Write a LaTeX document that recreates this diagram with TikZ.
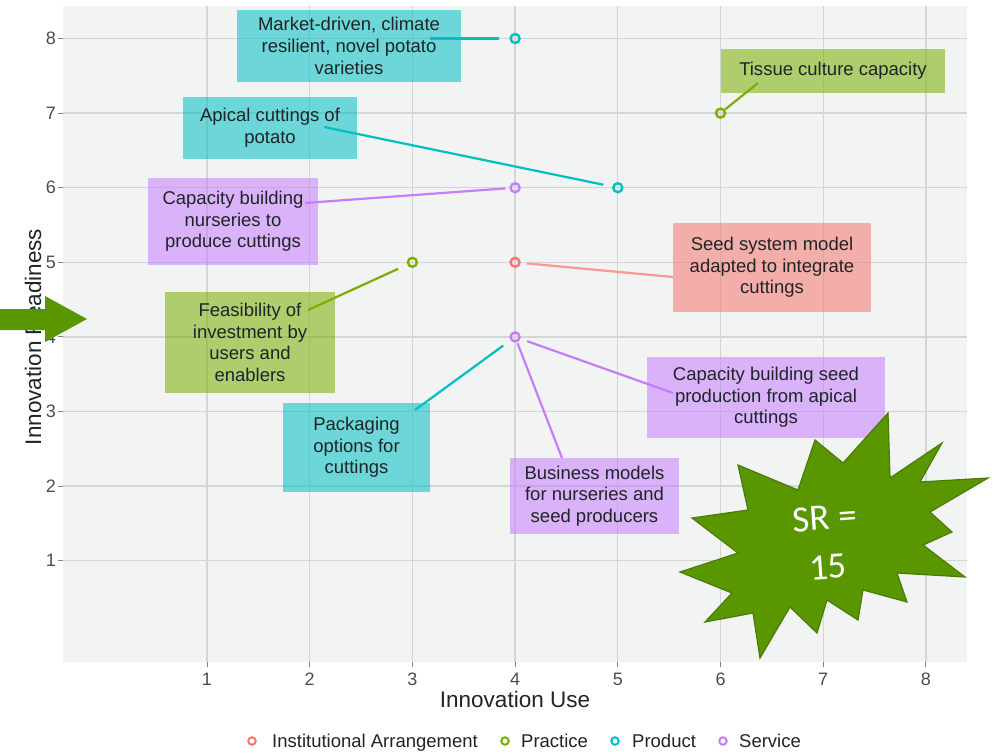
\documentclass[tikz,border=0pt]{standalone}
\usepackage{fontspec}
\setmainfont{Liberation Sans}
\newfontfamily\calibfont{Carlito}
\definecolor{cInst}{HTML}{F8766D}
\definecolor{cPrac}{HTML}{7CAE00}
\definecolor{cProd}{HTML}{00BFC4}
\definecolor{cServ}{HTML}{C77CFF}
\definecolor{panelbg}{HTML}{F1F4F3}
\definecolor{gridc}{HTML}{D3D6D5}
\definecolor{tickc}{HTML}{4D4D4D}
\definecolor{txtc}{HTML}{1E2528}
\definecolor{pptgreen}{HTML}{5A9600}
\definecolor{pptgreendark}{HTML}{4A7C00}
\begin{document}
\begin{tikzpicture}[x=1pt,y=-1pt,
  labbox/.style={inner sep=0pt, align=center, text=txtc, fill opacity=0.55, text opacity=1,
    font=\fontsize{18.5}{21.7}\selectfont},
  seg/.style={line width=2.2pt},
  datapt/.style={circle, draw, line width=2.4pt, minimum size=9pt, inner sep=0pt},
  legpt/.style={circle, draw, line width=2pt, minimum size=7.5pt, inner sep=0pt},
  legtxt/.style={anchor=base west, inner sep=0pt, text=txtc, font=\fontsize{18.5}{22}\selectfont},
  ticklab/.style={inner sep=0pt, text=tickc, font=\fontsize{18}{22}\selectfont},
  axtitle/.style={inner sep=0pt, text=txtc, font=\fontsize{22.5}{26}\selectfont},
  gridline/.style={gridc, line width=1.3pt},
  tickmark/.style={tickc!70, line width=1pt},
  burst/.style={fill=pptgreen, draw=pptgreendark, line width=1.2pt, line join=miter},
  bursttxt/.style={text=white, inner sep=0pt, rotate=4, font=\calibfont\fontsize{37}{40}\selectfont},
  bigarrow/.style={fill=pptgreen}
]
\useasboundingbox (0,0) rectangle (995,753);
\fill[white] (0,0) rectangle (995,753);
% panel
\fill[panelbg] (63,6) rectangle (967,662);
\foreach \gx in {207,309.7,412.4,515.1,617.8,720.5,823.2,925.9}{
  \draw[gridline] (\gx,6) -- (\gx,662);
  \draw[tickmark] (\gx,662) -- (\gx,667);
}
\foreach \gy in {560.7,486.1,411.5,336.9,262.3,187.7,113.1,38.5}{
  \draw[gridline] (63,\gy) -- (967,\gy);
  \draw[tickmark] (58,\gy) -- (63,\gy);
}
% tick labels
\foreach \v/\gx in {1/207,2/309.7,3/412.4,4/515.1,5/617.8,6/720.5,7/823.2,8/925.9}{
  \node[ticklab] (xt\v) at (\gx,679) {\v};
}
\foreach \v/\gy in {1/560.7,2/486.1,3/411.5,4/336.9,5/262.3,6/187.7,7/113.1,8/38.5}{
  \node[ticklab, anchor=east] (yt\v) at (56,\gy) {\v};
}
% axis titles
\node[axtitle] (xtitle) at (515,699) {Innovation Use};
\node[axtitle, rotate=90] (ytitle) at (33,337) {Innovation Readiness};

% data point positions
\path
  (515.1,38.5)  node[datapt, draw=none] (pA) {}
  (720.5,113.1) node[datapt, draw=none] (pB) {}
  (617.8,187.7) node[datapt, draw=none] (pC) {}
  (515.1,187.7) node[datapt, draw=none] (pD) {}
  (515.1,262.3) node[datapt, draw=none] (pE) {}
  (412.4,262.3) node[datapt, draw=none] (pF) {}
  (515.1,336.9) node[datapt, draw=none] (pG) {};

% segment free ends
\coordinate (sA) at (430,38.5);
\coordinate (sB) at (758,83);
\coordinate (sC) at (324,127);
\coordinate (sD) at (305,203);
\coordinate (sE) at (673,277);
\coordinate (sF) at (308,310);
\coordinate (sG) at (415,410);
\coordinate (sH) at (562,458);
\coordinate (sI) at (673,393);

% segments
\draw[seg, cProd, shorten >=10pt] (sA) -- (pA);
\draw[seg, cPrac] (sB) -- (pB);
\draw[seg, cProd, shorten >=9pt] (sC) -- (pC);
\draw[seg, cServ, shorten >=4pt] (sD) -- (pD);
\draw[seg, cInst!75, shorten <=6pt] (pE) -- (sE);
\draw[seg, cPrac, shorten >=10pt] (sF) -- (pF);
\draw[seg, cProd, shorten <=9pt] (pG) -- (sG);
\draw[seg, cServ, shorten <=1pt] (pG) -- (sH);
\draw[seg, cServ, shorten <=7pt] (pG) -- (sI);

% label boxes
\node[labbox, fill=cProd, minimum width=224pt, minimum height=72pt] (lA) at (349,46)
  {Market-driven, climate\\resilient, novel potato\\varieties};
\node[labbox, fill=cPrac, minimum width=224pt, minimum height=44pt] (lB) at (833,71)
  {Tissue culture capacity};
\node[labbox, fill=cProd, minimum width=174pt, minimum height=62pt] (lC) at (270,128)
  {Apical cuttings of\\potato};
\node[labbox, fill=cServ, minimum width=170pt, minimum height=87pt] (lD) at (233,221.5)
  {Capacity building\\nurseries  to\\produce cuttings};
\node[labbox, fill=cInst, minimum width=198pt, minimum height=89pt] (lE) at (772,267.5)
  {Seed system model\\adapted to integrate\\cuttings};
\node[labbox, fill=cPrac, minimum width=170pt, minimum height=101pt] (lF) at (250,342.5)
  {Feasibility of\\investment by\\users and\\enablers};
\node[labbox, fill=cServ, minimum width=238pt, minimum height=81pt] (lI) at (766,397.5)
  {Capacity building seed\\production from apical\\cuttings};
\node[labbox, fill=cProd, minimum width=147pt, minimum height=89pt] (lG) at (356.5,447.5)
  {Packaging\\options for\\cuttings};
\node[labbox, fill=cServ, minimum width=169pt, minimum height=76pt] (lH) at (594.5,496)
  {Business models\\for nurseries  and\\seed producers};

% visible points on top
\node[datapt, draw=cProd] at (pA) {};
\node[datapt, draw=cPrac] at (pB) {};
\node[datapt, draw=cProd] at (pC) {};
\node[datapt, draw=cServ] at (pD) {};
\node[datapt, draw=cInst] at (pE) {};
\node[datapt, draw=cPrac] at (pF) {};
\node[datapt, draw=cServ] at (pG) {};

% legend
\node[legpt, draw=cInst] (k1) at (252,741) {};
\node[legtxt] (k1t) at (272,747.5) {Institutional Arrangement};
\node[legpt, draw=cPrac] (k2) at (505,741) {};
\node[legtxt] (k2t) at (521,747.5) {Practice};
\node[legpt, draw=cProd] (k3) at (615,741) {};
\node[legtxt] (k3t) at (632,747.5) {Product};
\node[legpt, draw=cServ] (k4) at (723,741) {};
\node[legtxt] (k4t) at (739,747.5) {Service};

% big green arrow
\fill[bigarrow] (0,309) -- (45,309) -- (45,296) -- (87,319) -- (45,342) -- (45,330) -- (0,330) -- cycle;

% starburst
\draw[burst] (738,465) -- (798,490) -- (815,440) -- (843,463) -- (888,413) -- (890,478)
  -- (942,443) -- (920,482) -- (988,478) -- (930,512) -- (952,532) -- (923,545)
  -- (965,577) -- (897,573) -- (907,602) -- (863,590) -- (858,620) -- (827,600)
  -- (817,633) -- (790,607) -- (760,658) -- (753,613) -- (705,622) -- (732,593)
  -- (680,572) -- (738,553) -- (692,518) -- (748,510) -- cycle;
\node[bursttxt] (sr1) at (825,518) {SR =};
\node[bursttxt] (sr2) at (828,567) {15};
\end{tikzpicture}
\end{document}
